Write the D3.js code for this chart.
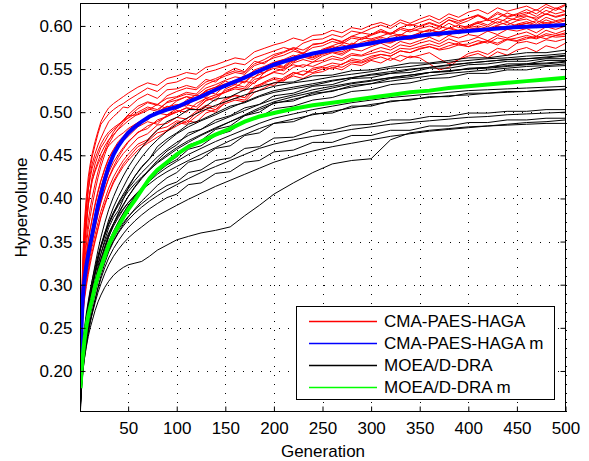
<!DOCTYPE html>
<html><head><meta charset="utf-8">
<script src="https://cdn.jsdelivr.net/npm/d3@7"></script>
<style>
html,body{margin:0;padding:0;background:#fff;}
text{font-family:"Liberation Sans",Arial,Helvetica,sans-serif;font-size:17px;fill:#000;}
</style></head>
<body><svg id="c" width="589" height="461"></svg>
<script>
const generations = [1,2,3,4,5,7,9,11,13,16,19,22,26,30,35,40,45,50,57,64,72,80,90,100,112,125,140,155,170,185,200,220,240,260,280,300,320,340,360,380,400,420,440,460,480,500];
const cmaGenerations = [1,2,3,4,5,7,9,11,13,16,19,22,26,30,35,40,45,50,60,70,80,90,100,110,120,130,140,150,160,170,180,190,200,210,220,230,240,250,260,270,280,290,300,310,320,330,340,350,360,370,380,390,400,410,420,430,440,450,460,470,480,490,500];

const cmaRuns = [
[.222,.265,.300,.330,.352,.385,.410,.428,.440,.452,.462,.470,.480,.489,.495,.500,.506,.505,
 .515,.521,.516,.526,.527,.531,.528,.538,.535,.545,.551,.547,.559,.556,.565,.569,.574,.568,.579,.580,.585,.581,.588,.592,.590,.596,.591,.598,.602,.599,.603,.599,.607,.602,.606,.612,.606,.609,.615,.611,.614,.619,.613,.621,.617],
[.220,.258,.292,.318,.340,.368,.392,.410,.425,.440,.450,.459,.466,.474,.480,.484,.490,.496,
 .497,.502,.509,.504,.513,.518,.514,.525,.529,.536,.532,.541,.548,.545,.557,.560,.564,.569,.566,.573,.577,.581,.578,.586,.585,.588,.592,.589,.596,.594,.593,.599,.597,.601,.598,.604,.607,.603,.609,.607,.611,.609,.614,.611,.614],
[.216,.246,.270,.289,.303,.322,.338,.351,.365,.381,.399,.413,.428,.441,.452,.460,.467,.472,
 .483,.489,.486,.497,.500,.505,.503,.514,.517,.525,.529,.536,.533,.546,.551,.548,.557,.561,.558,.565,.569,.566,.573,.571,.576,.580,.575,.582,.579,.583,.587,.582,.589,.586,.590,.588,.594,.590,.596,.594,.597,.592,.599,.596,.600],
[.214,.238,.258,.273,.285,.302,.316,.328,.338,.352,.366,.379,.394,.406,.420,.430,.440,.447,
 .460,.466,.476,.479,.488,.486,.495,.503,.500,.512,.516,.514,.527,.533,.531,.540,.546,.543,.549,.552,.550,.556,.560,.558,.563,.567,.565,.571,.569,.574,.576,.573,.577,.580,.576,.580,.583,.580,.585,.583,.587,.585,.589,.587,.588],
[.224,.270,.310,.342,.365,.395,.418,.435,.448,.462,.475,.486,.492,.498,.503,.507,.510,.514,
 .521,.528,.524,.533,.535,.540,.538,.546,.549,.553,.557,.555,.563,.567,.571,.575,.572,.580,.584,.585,.590,.587,.594,.592,.597,.601,.597,.604,.600,.604,.608,.603,.610,.606,.609,.613,.608,.616,.611,.614,.619,.614,.622,.618,.624],
[.219,.252,.280,.300,.316,.336,.352,.365,.377,.394,.409,.421,.435,.447,.457,.466,.472,.479,
 .488,.492,.500,.507,.504,.514,.520,.517,.528,.532,.535,.543,.540,.551,.556,.553,.563,.566,.564,.570,.574,.578,.575,.581,.584,.581,.588,.590,.587,.592,.595,.593,.597,.594,.598,.600,.597,.601,.604,.600,.603,.606,.603,.605,.607],
[.213,.236,.255,.270,.282,.298,.312,.324,.335,.350,.364,.378,.392,.405,.418,.428,.437,.444,
 .456,.464,.471,.478,.484,.490,.488,.499,.503,.510,.514,.512,.523,.528,.534,.537,.542,.539,.545,.547,.552,.549,.556,.554,.560,.557,.563,.559,.565,.563,.556,.549,.552,.561,.565,.568,.563,.570,.566,.572,.575,.570,.577,.574,.580],
[.221,.260,.294,.322,.342,.370,.392,.407,.420,.433,.443,.452,.461,.468,.474,.480,.485,.490,
 .498,.504,.501,.512,.517,.521,.519,.528,.532,.537,.541,.539,.549,.553,.558,.561,.566,.563,.569,.571,.576,.573,.580,.578,.583,.587,.584,.590,.588,.592,.596,.592,.598,.595,.600,.603,.599,.605,.601,.606,.608,.603,.610,.606,.609],
[.217,.244,.266,.283,.296,.314,.329,.342,.353,.368,.383,.396,.410,.423,.435,.444,.452,.458,
 .470,.475,.485,.487,.494,.492,.501,.508,.506,.516,.519,.517,.528,.535,.540,.538,.546,.543,.551,.553,.557,.555,.562,.560,.565,.567,.565,.571,.569,.573,.576,.572,.574,.578,.576,.579,.582,.578,.584,.582,.585,.588,.585,.589,.590],
[.223,.266,.305,.336,.360,.389,.410,.424,.435,.446,.455,.463,.471,.477,.482,.486,.490,.493,
 .500,.506,.503,.511,.514,.518,.516,.525,.529,.533,.537,.535,.546,.551,.557,.561,.558,.566,.569,.572,.576,.573,.579,.577,.581,.585,.582,.588,.586,.590,.588,.593,.589,.595,.593,.597,.594,.600,.597,.602,.605,.601,.607,.603,.606],
[.220,.254,.283,.306,.323,.346,.364,.379,.392,.409,.424,.437,.451,.463,.473,.481,.488,.494,
 .504,.511,.508,.519,.524,.528,.526,.535,.539,.544,.548,.546,.556,.561,.567,.570,.575,.572,.578,.580,.585,.582,.588,.586,.590,.594,.591,.598,.595,.600,.604,.600,.607,.604,.609,.612,.607,.614,.610,.613,.616,.611,.618,.614,.617],
[.215,.241,.262,.279,.292,.310,.325,.338,.350,.366,.381,.395,.410,.424,.437,.448,.457,.465,
 .477,.481,.491,.495,.502,.500,.510,.516,.513,.527,.532,.529,.541,.546,.553,.551,.559,.564,.561,.567,.570,.568,.574,.577,.578,.581,.580,.585,.584,.587,.590,.588,.593,.591,.595,.597,.595,.599,.596,.598,.600,.598,.601,.599,.602],
[.222,.262,.298,.326,.347,.375,.396,.410,.421,.431,.440,.447,.455,.461,.467,.472,.476,.481,
 .488,.492,.499,.497,.504,.509,.506,.516,.520,.523,.529,.527,.538,.541,.546,.544,.552,.555,.553,.558,.562,.560,.566,.565,.568,.571,.568,.574,.573,.576,.579,.576,.581,.578,.579,.583,.580,.586,.584,.586,.589,.586,.591,.589,.592],
[.219,.256,.288,.312,.330,.354,.374,.389,.401,.417,.431,.443,.456,.467,.477,.485,.491,.497,
 .507,.512,.509,.516,.518,.523,.521,.532,.537,.542,.546,.544,.554,.558,.563,.566,.571,.568,.575,.577,.582,.579,.586,.584,.589,.593,.590,.596,.593,.597,.600,.596,.603,.598,.600,.605,.601,.608,.605,.610,.612,.607,.614,.610,.613],
[.214,.239,.259,.276,.289,.306,.320,.333,.344,.358,.372,.385,.399,.412,.425,.435,.444,.451,
 .463,.468,.480,.483,.490,.488,.499,.506,.503,.514,.520,.517,.530,.534,.538,.536,.544,.548,.546,.550,.554,.552,.558,.557,.561,.564,.560,.566,.563,.566,.569,.562,.556,.561,.568,.571,.567,.574,.572,.580,.582,.579,.584,.582,.585],
[.225,.272,.314,.348,.372,.402,.425,.440,.452,.466,.478,.489,.498,.505,.510,.514,.518,.522,
 .529,.534,.531,.539,.542,.546,.544,.552,.555,.559,.563,.561,.570,.574,.578,.581,.586,.583,.589,.590,.595,.592,.598,.596,.601,.604,.600,.607,.603,.608,.612,.607,.614,.610,.616,.619,.614,.621,.617,.620,.623,.618,.625,.620,.625],
[.218,.250,.277,.297,.312,.333,.350,.364,.376,.392,.407,.420,.434,.446,.456,.464,.471,.477,
 .487,.491,.500,.506,.509,.507,.517,.524,.521,.531,.536,.534,.545,.550,.554,.552,.561,.565,.563,.568,.572,.570,.576,.577,.579,.583,.581,.586,.585,.588,.591,.589,.594,.593,.596,.598,.595,.600,.598,.601,.603,.600,.604,.601,.603],
[.216,.244,.268,.286,.300,.319,.334,.347,.359,.374,.389,.402,.417,.430,.442,.451,.459,.466,
 .476,.484,.489,.495,.500,.505,.503,.513,.518,.523,.527,.525,.535,.541,.547,.550,.555,.552,.558,.560,.565,.562,.568,.566,.571,.575,.572,.578,.576,.580,.583,.579,.585,.581,.583,.587,.583,.589,.586,.590,.593,.588,.595,.591,.595]
];

const cmaMean = [.218,.250,.278,.295,.305,.322,.335,.347,.358,.375,.392,.405,.422,.437,.451,.461,.469,.476,.483,.489,.495,.499,.503,.506,.512,.518,.526,.533,.540,.548,.555,.562,.568,.572,.576,.580,.584,.587,.590,.592,.594,.596,.598,.599,.600,.601];

const moeaRuns = [
[.175,.200,.218,.232,.244,.262,.278,.292,.305,.323,.340,.355,.372,.387,.402,.415,.426,.436,.448,.459,.470,.479,.489,.494,.503,.503,.515,.518,.526,.529,.534,.535,.542,.543,.548,.549,.553,.557,.557,.560,.563,.563,.566,.569,.569,.572],
[.170,.193,.210,.224,.236,.254,.270,.284,.296,.313,.330,.344,.360,.375,.390,.402,.413,.424,.437,.448,.459,.468,.478,.486,.494,.501,.508,.514,.520,.525,.530,.534,.537,.541,.544,.547,.551,.553,.556,.558,.560,.562,.563,.565,.566,.568],
[.168,.190,.206,.219,.231,.248,.263,.277,.289,.305,.321,.336,.352,.366,.378,.386,.399,.412,.426,.437,.446,.460,.469,.476,.486,.491,.499,.507,.511,.518,.523,.527,.531,.536,.540,.543,.545,.549,.552,.554,.557,.559,.561,.562,.564,.566],
[.172,.196,.213,.227,.239,.257,.272,.285,.297,.314,.330,.343,.357,.370,.383,.395,.405,.414,.426,.436,.446,.456,.466,.475,.483,.490,.497,.505,.512,.519,.525,.529,.533,.537,.540,.544,.547,.550,.552,.555,.557,.559,.561,.562,.563,.565],
[.165,.187,.203,.216,.227,.244,.259,.272,.284,.300,.315,.329,.344,.358,.371,.383,.393,.402,.414,.424,.434,.444,.455,.462,.476,.480,.491,.496,.505,.509,.519,.522,.530,.532,.539,.540,.545,.546,.551,.551,.555,.556,.559,.559,.562,.562],
[.178,.204,.222,.237,.249,.267,.281,.294,.305,.320,.334,.346,.360,.372,.384,.394,.403,.411,.421,.430,.439,.448,.457,.465,.473,.480,.488,.495,.502,.509,.515,.520,.526,.530,.534,.537,.540,.543,.546,.548,.550,.552,.554,.556,.557,.559],
[.163,.184,.199,.212,.223,.240,.254,.267,.279,.295,.311,.325,.341,.355,.370,.382,.392,.402,.413,.423,.433,.442,.451,.459,.467,.474,.482,.489,.496,.503,.510,.515,.520,.525,.529,.533,.536,.539,.542,.545,.547,.549,.551,.553,.554,.556],
[.169,.191,.207,.220,.231,.247,.260,.272,.282,.296,.309,.321,.335,.348,.361,.372,.382,.391,.401,.411,.421,.431,.441,.448,.462,.467,.480,.484,.496,.500,.511,.513,.522,.524,.531,.533,.539,.541,.546,.547,.551,.552,.556,.556,.560,.560],
[.174,.198,.216,.230,.242,.260,.275,.288,.300,.316,.331,.344,.358,.370,.382,.392,.400,.408,.417,.425,.433,.441,.449,.457,.465,.473,.481,.489,.497,.505,.512,.518,.523,.528,.533,.536,.540,.543,.546,.548,.550,.551,.553,.555,.556,.558],
[.166,.188,.204,.217,.228,.245,.259,.271,.282,.297,.311,.323,.337,.350,.362,.373,.383,.392,.402,.412,.421,.430,.439,.445,.457,.461,.473,.478,.490,.494,.504,.507,.514,.517,.524,.526,.532,.534,.539,.540,.545,.545,.549,.549,.553,.554],
[.171,.194,.211,.224,.235,.252,.266,.278,.289,.304,.318,.330,.344,.356,.368,.378,.387,.395,.404,.412,.420,.428,.436,.443,.451,.458,.466,.473,.480,.487,.493,.498,.503,.507,.511,.514,.517,.519,.521,.523,.525,.526,.527,.528,.529,.530],
[.167,.189,.205,.218,.229,.245,.258,.269,.279,.292,.305,.316,.329,.340,.351,.361,.370,.378,.388,.397,.406,.415,.424,.430,.442,.446,.458,.461,.473,.476,.487,.489,.498,.499,.507,.507,.513,.514,.518,.518,.522,.522,.524,.524,.526,.526],
[.176,.201,.219,.233,.245,.262,.276,.288,.298,.312,.325,.336,.349,.360,.371,.380,.388,.395,.403,.410,.417,.424,.431,.437,.444,.451,.459,.467,.474,.481,.487,.492,.497,.501,.505,.509,.512,.515,.517,.519,.520,.522,.523,.524,.525,.527],
[.155,.180,.194,.205,.214,.228,.240,.250,.258,.270,.280,.288,.297,.304,.311,.316,.320,.323,.325,.327,.333,.340,.346,.352,.356,.360,.363,.367,.380,.392,.405,.418,.430,.440,.444,.446,.468,.476,.479,.481,.483,.484,.485,.486,.487,.487],
[.162,.183,.198,.210,.220,.235,.248,.259,.269,.283,.296,.307,.320,.331,.342,.351,.359,.366,.374,.381,.388,.394,.401,.405,.416,.418,.429,.431,.442,.444,.454,.456,.465,.465,.473,.473,.479,.479,.484,.484,.488,.488,.491,.491,.493,.493],
[.158,.178,.192,.204,.214,.230,.244,.256,.267,.282,.297,.310,.325,.338,.350,.360,.368,.375,.383,.390,.397,.403,.410,.416,.423,.430,.437,.444,.451,.458,.463,.468,.472,.476,.480,.483,.486,.488,.490,.492,.494,.495,.497,.498,.499,.500],
[.164,.186,.201,.214,.224,.240,.253,.265,.275,.290,.304,.316,.330,.342,.354,.364,.372,.379,.387,.394,.401,.408,.415,.419,.430,.433,.444,.447,.458,.460,.470,.471,.479,.479,.485,.486,.491,.491,.495,.495,.499,.499,.501,.501,.503,.503],
[.161,.182,.196,.208,.218,.233,.246,.257,.266,.279,.291,.301,.313,.323,.333,.341,.348,.354,.361,.367,.374,.380,.386,.392,.399,.406,.414,.421,.428,.435,.442,.449,.455,.460,.464,.468,.472,.475,.478,.480,.482,.484,.486,.488,.489,.491]
];

const moeaMean = [.180,.200,.213,.224,.235,.252,.264,.274,.283,.298,.310,.320,.333,.346,.358,.368,.378,.387,.398,.410,.423,.433,.442,.451,.460,.466,.474,.481,.489,.495,.499,.504,.508,.511,.514,.517,.520,.523,.525,.528,.530,.532,.534,.536,.538,.540];

const xTicks = [50,100,150,200,250,300,350,400,450,500];
const yTicks = [0.20,0.25,0.30,0.35,0.40,0.45,0.50,0.55,0.60];
const xLabel = "Generation";
const yLabel = "Hypervolume";
const legendLabels = ["CMA-PAES-HAGA","CMA-PAES-HAGA m","MOEA/D-DRA","MOEA/D-DRA m"];
const legendColors = ["#ff0000","#0000ff","#000000","#00ff00"];

const svg = d3.select("#c");
const L = 80.5, R = 565.5, T = 3.5, B = 411.5;
const x = d3.scaleLinear().domain([1,500]).range([L,R]);
const y = d3.scaleLinear().domain([0.153,0.626]).range([B,T]);

// grid
const grid = svg.append("g").attr("stroke","#000").attr("stroke-width",1).attr("stroke-dasharray","1,8").attr("shape-rendering","crispEdges");
xTicks.forEach(t=>{ const px=Math.round(x(t))+0.5; grid.append("line").attr("x1",px).attr("x2",px).attr("y1",B).attr("y2",T);});
yTicks.forEach(t=>{ const py=Math.round(y(t))+0.5; grid.append("line").attr("x1",L).attr("x2",R).attr("y1",py).attr("y2",py);});

svg.append("clipPath").attr("id","clip").append("rect").attr("x",L).attr("y",T).attr("width",R-L).attr("height",B-T);
const plot = svg.append("g").attr("clip-path","url(#clip)");
const lineOn = gens => d3.line().x((d,i)=>x(gens[i])).y(d=>y(d));
const cmaLine = lineOn(cmaGenerations), line = lineOn(generations);

plot.append("g").selectAll("path").data(cmaRuns).join("path").attr("fill","none").attr("stroke","#ff0000").attr("stroke-width",1).attr("d",cmaLine);
plot.append("path").datum(cmaMean).attr("fill","none").attr("stroke","#0000ff").attr("stroke-width",4).attr("d",line);
plot.append("g").selectAll("path").data(moeaRuns).join("path").attr("fill","none").attr("stroke","#000").attr("stroke-width",1).attr("d",line);
plot.append("path").datum(moeaMean).attr("fill","none").attr("stroke","#00ff00").attr("stroke-width",4).attr("d",line);

// axes box
const ax = svg.append("g").attr("shape-rendering","crispEdges");
ax.append("rect").attr("x",L).attr("y",T).attr("width",R-L).attr("height",B-T).attr("fill","none").attr("stroke","#000").attr("stroke-width",1);

const xb = d3.axisBottom(x).tickValues(xTicks).tickSize(-5).tickPadding(10).tickFormat(d3.format("d"));
const xt = d3.axisTop(x).tickValues(xTicks).tickSize(-5).tickFormat("");
const yl = d3.axisLeft(y).tickValues(yTicks).tickSize(-5).tickPadding(8).tickFormat(d3.format(".2f"));
const yr = d3.axisRight(y).tickValues(yTicks).tickSize(-5).tickFormat("");
function style(g){ g.select(".domain").remove(); g.selectAll("text").attr("fill","#000"); g.selectAll("line").attr("stroke","#000"); g.attr("font-family",null).attr("font-size",null); }
svg.append("g").attr("transform",`translate(0,${B})`).call(xb).call(style);
svg.append("g").attr("transform",`translate(0,${T})`).call(xt).call(style);
svg.append("g").attr("transform",`translate(${L},0)`).call(yl).call(style);
svg.append("g").attr("transform",`translate(${R},0)`).call(yr).call(style);

svg.append("text").attr("x",(L+R)/2).attr("y",457).attr("text-anchor","middle").text(xLabel);
svg.append("text").attr("transform",`translate(27,${(T+B)/2}) rotate(-90)`).attr("text-anchor","middle").text(yLabel);

// legend
const lg = svg.append("g");
lg.append("rect").attr("x",296.5).attr("y",306.5).attr("width",258).attr("height",93).attr("fill","#fff").attr("stroke","#000").attr("shape-rendering","crispEdges");
legendLabels.forEach((lab,i)=>{
  const cy = 321 + i*22;
  lg.append("line").attr("x1",309).attr("x2",377).attr("y1",cy+0.5).attr("y2",cy+0.5).attr("stroke",legendColors[i]).attr("stroke-width",1.3);
  lg.append("text").attr("x",384).attr("y",cy).attr("dy","0.35em").text(lab);
});
</script></body></html>
